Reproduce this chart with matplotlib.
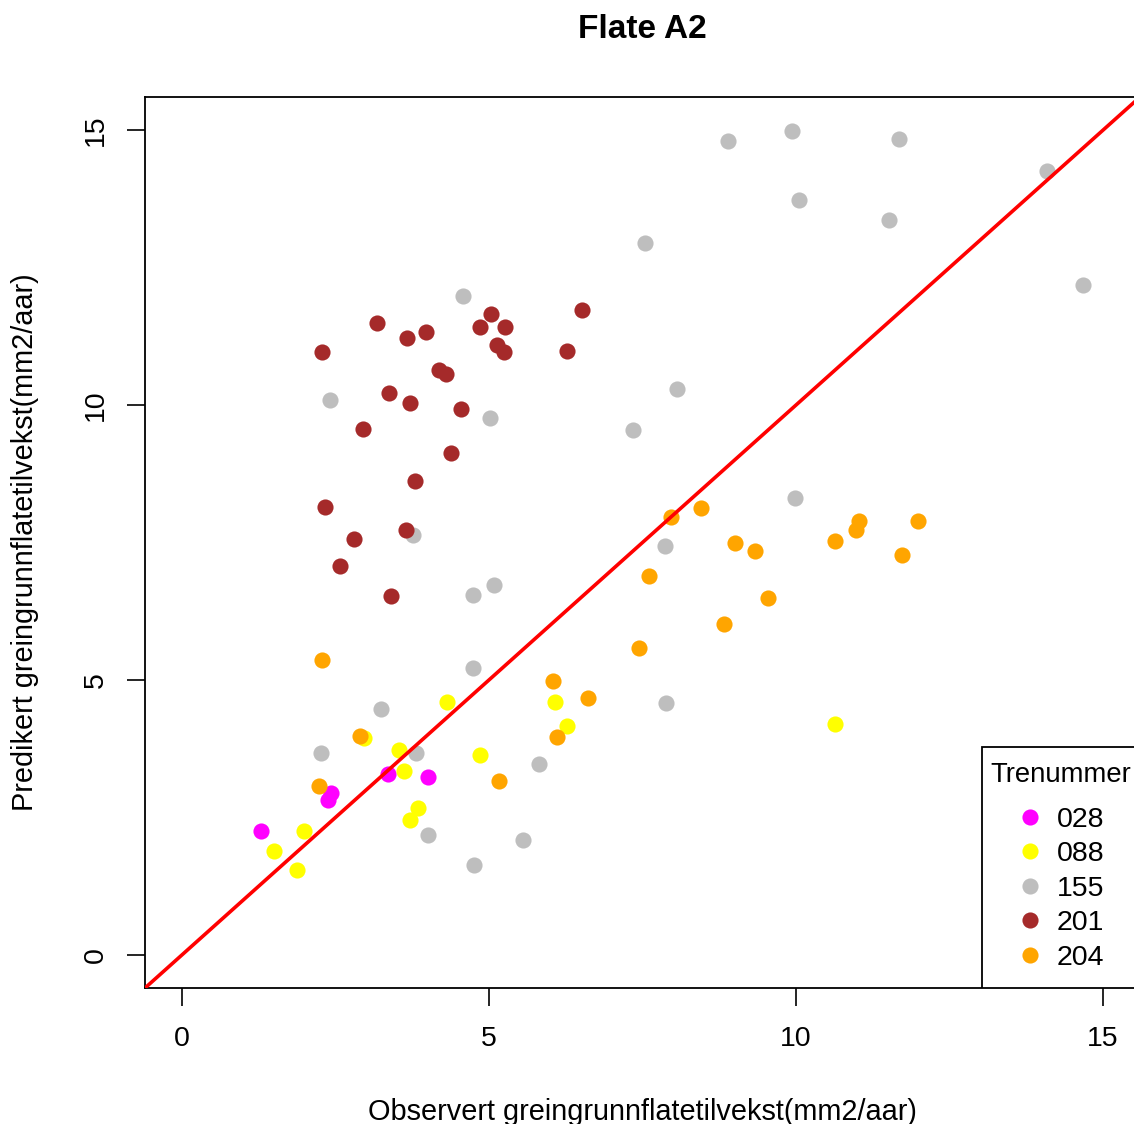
import matplotlib
matplotlib.use("Agg")
import matplotlib.pyplot as plt
import matplotlib.patches as patches

plt.rcParams['font.family'] = ['Liberation Sans', 'DejaVu Sans']

# data: observert (x) og predikert (y) per tre
groups = ["028", "088", "155", "201", "204"]
colors = ["#FF00FF", "#FFFF00", "#BEBEBE", "#A52A2A", "#FFA500"]

x_028 = [1.29, 2.43, 2.38, 3.35, 4.00]
y_028 = [2.26, 2.95, 2.82, 3.29, 3.24]

x_088 = [1.99, 1.50, 1.87, 4.31, 2.96, 3.53, 3.61, 3.84, 3.71, 4.85, 6.07, 6.27, 10.63]
y_088 = [2.26, 1.89, 1.55, 4.60, 3.95, 3.73, 3.35, 2.68, 2.46, 3.64, 4.60, 4.17, 4.20]

x_155 = [4.57, 2.41, 3.76, 4.74, 8.06, 7.34, 5.01, 7.86, 5.08, 3.24, 2.26, 3.82, 4.00,
         4.74, 4.75, 5.81, 7.89, 5.55, 8.90, 9.94, 11.68, 14.08, 10.04, 11.51, 7.54,
         14.68, 9.98]
y_155 = [11.99, 10.10, 7.64, 6.55, 10.30, 9.54, 9.77, 7.43, 6.73, 4.48, 3.68, 3.68, 2.18,
         5.22, 1.64, 3.48, 4.59, 2.09, 14.80, 14.98, 14.83, 14.25, 13.72, 13.36, 12.94,
         12.18, 8.30]

x_201 = [3.17, 2.28, 3.66, 3.97, 4.18, 4.30, 3.37, 3.71, 4.54, 2.95, 4.39, 3.79, 2.33,
         2.80, 3.65, 2.57, 3.40, 6.51, 5.03, 4.85, 5.26, 5.13, 5.24, 6.27]
y_201 = [11.50, 10.97, 11.21, 11.32, 10.63, 10.57, 10.21, 10.03, 9.92, 9.57, 9.12, 8.61,
         8.15, 7.57, 7.72, 7.08, 6.53, 11.72, 11.65, 11.41, 11.41, 11.10, 10.97, 10.99]

x_204 = [2.28, 2.90, 2.23, 6.05, 6.61, 6.10, 5.16, 7.45, 8.82, 7.96, 8.45, 9.00, 9.33,
         7.60, 9.54, 10.64, 11.02, 10.97, 11.98, 11.72]
y_204 = [5.37, 3.99, 3.08, 4.99, 4.68, 3.97, 3.17, 5.59, 6.02, 7.97, 8.12, 7.50, 7.35,
         6.90, 6.50, 7.53, 7.90, 7.73, 7.90, 7.28]

xs = [x_028, x_088, x_155, x_201, x_204]
ys = [y_028, y_088, y_155, y_201, y_204]

fig = plt.figure(figsize=(11.34, 11.24), dpi=100)
# plot region runs a bit past the right edge, like the original
ax = fig.add_axes([145 / 1134, 1 - 988 / 1124, 995 / 1134, 891 / 1124])

for gx, gy, c in zip(xs, ys, colors):
    ax.scatter(gx, gy, s=135, color=c, linewidths=0, zorder=2)

ax.axline((0, 0), slope=1, color='red', lw=2.6, zorder=3)

ax.set_xlim(-0.6, 15.6)
ax.set_ylim(-0.6, 15.6)
ax.set_xticks([0, 5, 10, 15])
ax.set_yticks([0, 5, 10, 15])
ax.tick_params(direction='out', length=13, width=1.2, labelsize=20.5, colors='black')
ax.tick_params(axis='x', pad=14)
ax.tick_params(axis='y', pad=13)
plt.setp(ax.get_yticklabels(), rotation=90, va='center')
for sp in ax.spines.values():
    sp.set_linewidth(1.3)

# legend, R style, anchored bottom right
box = patches.Rectangle((0.8412, 0), 0.1588, 0.2705, transform=ax.transAxes,
                        facecolor='white', edgecolor='black', lw=1.3, zorder=4)
ax.add_patch(box)
ax.text(0.8492, 0.2312, "Trenummer", transform=ax.transAxes, fontsize=19.8,
        ha='left', va='baseline', zorder=5)
for i, (g, c) in enumerate(zip(groups, colors)):
    yy = 0.1923 - i * 0.0388
    ax.scatter([0.8897], [yy], s=135, color=c, linewidths=0, transform=ax.transAxes, zorder=5)
    ax.text(0.9163, yy - 0.0112, g, transform=ax.transAxes, fontsize=20.5,
            ha='left', va='baseline', zorder=5)

fig.text(642.5 / 1134, 1 - 38 / 1124, "Flate A2", fontsize=24, fontweight='bold',
         ha='center', va='baseline')
fig.text(642.5 / 1134, 1 - 1120 / 1124, "Observert greingrunnflatetilvekst(mm2/aar)",
         fontsize=20.8, ha='center', va='baseline')
fig.text(33 / 1134, 1 - 542 / 1124, "Predikert greingrunnflatetilvekst(mm2/aar)",
         fontsize=20.8, ha='center', va='baseline', rotation=90, rotation_mode='anchor')

fig.savefig("out.png", dpi=100)
